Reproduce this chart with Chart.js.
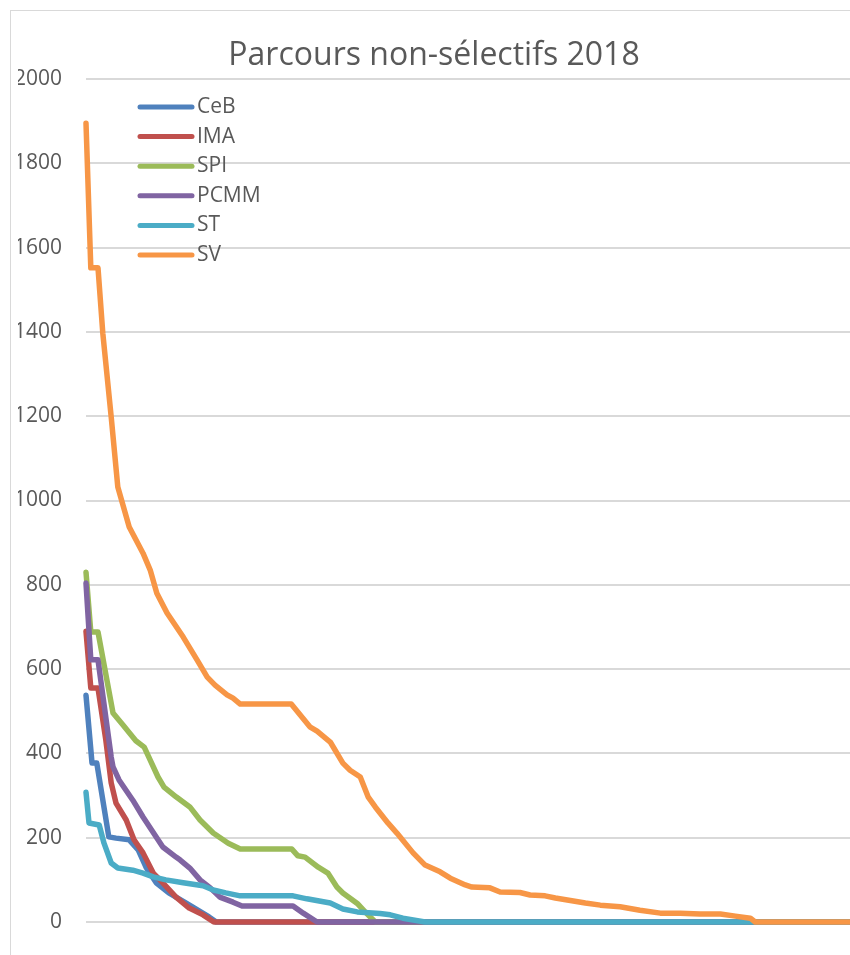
<!DOCTYPE html>
<html>
<head>
<meta charset="utf-8">
<script src="https://cdn.jsdelivr.net/npm/chart.js@4"></script>
<style>
    body { margin: 0; background: #fff; overflow: hidden; }
</style>
</head>
<body>
<canvas id="myChart" width="850" height="955"></canvas>
<script>
// #region data
const yTicks = [0, 200, 400, 600, 800, 1000, 1200, 1400, 1600, 1800, 2000];

const cebRank = [0, 1, 1.8, 3.8, 5, 7.2, 8.7, 10, 11.7, 13.8, 16.7, 20.5, 21.7, 127.3];
const cebVal = [538, 377, 377, 202, 199, 195, 171, 130, 93, 69, 45, 12, 0, 0];

const imaRank = [0, 0.8, 2, 3.3, 4.2, 5, 6.7, 8, 9.5, 11.2, 12.8, 15, 17.2, 19.5, 21.3, 127.3];
const imaVal = [690, 555, 555, 432, 330, 282, 242, 195, 164, 116, 93, 59, 33, 17, 0, 0];

const spiRank = [0, 0.8, 2, 4.5, 6.2, 8.3, 9.7, 10.7, 12, 13, 15, 17.3, 19, 21.2, 23.7, 25.7,
    34.3, 35.3, 36.5, 38.7, 40.3, 41.8, 42.8, 45.2, 46.5, 48.2, 127.3];
const spiVal = [830, 688, 688, 496, 467, 430, 415, 384, 344, 320, 297, 273, 242, 211, 187, 173,
    173, 157, 154, 130, 116, 83, 69, 44, 24, 0, 0];

const pcmmRank = [0, 0.8, 2, 4.2, 4.5, 5.5, 7.8, 9.5, 12.8, 15, 15.7, 17.3, 19, 20.7, 22.3, 24.5,
    26, 34.5, 36.2, 38.5, 127.3];
const pcmmVal = [804, 622, 622, 391, 368, 337, 289, 249, 178, 154, 147, 128, 100, 81, 59, 47,
    38, 38, 21, 0, 0];

const stRank = [0, 0.5, 2.2, 3, 4.2, 5.3, 7.8, 9.5, 11.2, 13.3, 16.2, 19.5, 21.2, 23.3, 25.7,
    34.5, 36.8, 40.7, 42.8, 45.2, 49, 50.7, 52.8, 56.5, 127.3];
const stVal = [308, 235, 230, 187, 140, 128, 123, 116, 107, 100, 93, 86, 76, 69, 62,
    62, 55, 45, 31, 24, 20, 17, 9, 0, 0];

const svRank = [0, 0.8, 2, 2.8, 4.2, 5.3, 7.2, 9.5, 10.7, 11.8, 13.5, 16.2, 18.5, 20.2, 21.5, 23.5,
    24.5, 25.7, 34.2, 37.3, 38.5, 40.7, 42.8, 44, 45.7, 47, 48.2, 50.3, 51.8, 54.5, 56.5, 59,
    60.7, 63.2, 64.3, 67.3, 69, 72.3, 74, 76.5, 78.2, 83.2, 85.7, 89, 92.3, 95.7, 99, 102.3,
    105.7, 108.2, 110.7, 111.5, 127.3];
const svVal = [1895, 1552, 1552, 1397, 1198, 1032, 937, 875, 835, 780, 733, 676, 622, 581, 562, 539,
    531, 517, 517, 463, 453, 427, 377, 360, 344, 297, 273, 235, 211, 164, 135, 119,
    104, 88, 83, 81, 71, 70, 64, 62, 57, 45, 40, 36, 28, 21, 21, 19,
    19, 14, 9, 0, 0];
// #endregion data

const textColor = '#595959';
const fontFamily = '"Open Sans", "Liberation Sans", sans-serif';

function series(label, ranks, values, color, i) {
    return {
        label: label,
        data: ranks.map((r, k) => ({ x: r, y: values[k] })),
        borderColor: color,
        backgroundColor: color,
        borderWidth: 5.5,
        borderCapStyle: 'round',
        borderJoinStyle: 'round',
        pointRadius: 0,
        tension: 0,
        clip: false,
        order: 5 - i   // later series on top, like the original
    };
}

// frame around the chart (only top and left edges are visible)
const framePlugin = {
    id: 'frame',
    beforeDraw(chart) {
        const ctx = chart.ctx;
        ctx.save();
        ctx.fillStyle = '#fff';
        ctx.fillRect(0, 0, chart.width, chart.height);
        ctx.strokeStyle = '#d9d9d9';
        ctx.lineWidth = 1;
        ctx.strokeRect(10.5, 10.5, chart.width + 50, chart.height + 50);
        ctx.restore();
    }
};

// vertical legend inside the plot
const legendPlugin = {
    id: 'innerLegend',
    afterDraw(chart) {
        const ctx = chart.ctx;
        ctx.save();
        ctx.font = '21px ' + fontFamily;
        ctx.textBaseline = 'middle';
        ctx.lineCap = 'round';
        chart.data.datasets.forEach((ds, i) => {
            const y = 107 + i * 29.6;
            ctx.strokeStyle = ds.borderColor;
            ctx.lineWidth = 5;
            ctx.beginPath();
            ctx.moveTo(140, y);
            ctx.lineTo(192, y);
            ctx.stroke();
            ctx.fillStyle = textColor;
            ctx.fillText(ds.label, 197, y);
        });
        ctx.restore();
    }
};

new Chart(document.querySelector('#myChart'), {
    type: 'line',
    data: {
        datasets: [
            series('CeB', cebRank, cebVal, '#4F81BD', 0),
            series('IMA', imaRank, imaVal, '#C0504D', 1),
            series('SPI', spiRank, spiVal, '#9BBB59', 2),
            series('PCMM', pcmmRank, pcmmVal, '#8064A2', 3),
            series('ST', stRank, stVal, '#4BACC6', 4),
            series('SV', svRank, svVal, '#F79646', 5)
        ]
    },
    options: {
        responsive: false,
        animation: false,
        layout: {
            padding: { left: 18, right: 0, top: 0, bottom: 33 }
        },
        plugins: {
            legend: { display: false },
            tooltip: { enabled: false },
            title: {
                display: true,
                text: 'Parcours non-sélectifs 2018',
                color: textColor,
                font: { family: fontFamily, size: 32, weight: 'normal', lineHeight: 1.2 },
                padding: { top: 37, bottom: 3.6 }
            }
        },
        scales: {
            x: {
                type: 'linear',
                display: false,
                min: 0,
                max: 127.3
            },
            y: {
                min: 0,
                max: 2000,
                afterBuildTicks: (s) => { s.ticks = yTicks.map(v => ({ value: v })); },
                afterFit: (s) => {
                    s.width = 68;
                    // tick padding is horizontal here, don't let it eat vertical space
                    s.paddingTop = 12;
                    s.paddingBottom = 12;
                },
                border: { display: false },
                grid: {
                    color: '#d9d9d9',
                    lineWidth: 2,
                    drawTicks: false
                },
                ticks: {
                    color: textColor,
                    padding: 24,
                    font: { family: fontFamily, size: 21 },
                    callback: (v) => String(v)
                }
            }
        }
    },
    plugins: [framePlugin, legendPlugin]
});
</script>
</body>
</html>
